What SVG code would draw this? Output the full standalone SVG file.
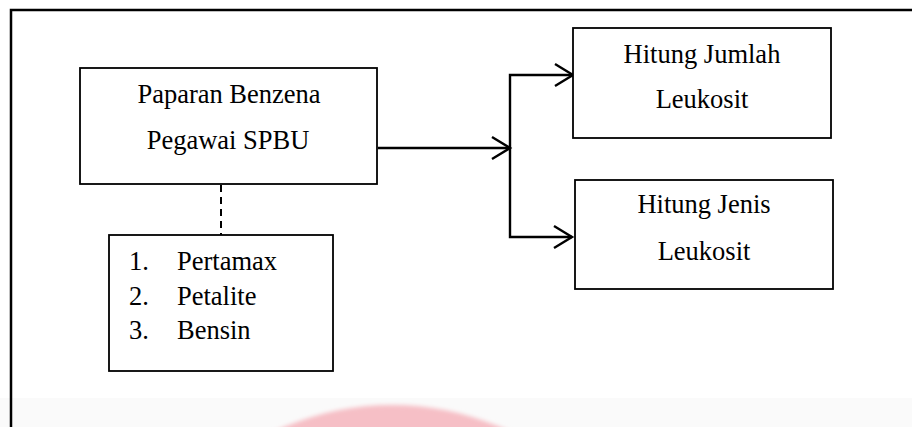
<svg xmlns="http://www.w3.org/2000/svg" width="912" height="427" viewBox="0 0 912 427">
<defs>
<style>
.box{fill:#fff;stroke:#000;stroke-width:1.8}
.t{font-size:26.5px;fill:#000}
.c{fill:none;stroke:#000;stroke-width:2.4}
</style>
<filter id="blur"><feGaussianBlur stdDeviation="2"/></filter>
</defs>
<rect x="0" y="0" width="912" height="427" fill="#fff"/>
<rect x="0" y="398" width="912" height="29" fill="#fafafa"/>
<circle cx="392" cy="681" r="276" fill="#f6bfc6" filter="url(#blur)"/>
<path d="M11 427 V10 H912" fill="none" stroke="#000" stroke-width="2.5"/>
<g id="connectors">
<path class="c" d="M378 148 H510"/>
<path class="c" d="M492 137 L510 148 L492 159"/>
<path class="c" d="M573 75 H510 V237 H572"/>
<path class="c" d="M555 64 L573 75 L555 86"/>
<path class="c" d="M554 226 L572 237 L554 248"/>
<path d="M221 185 V235" fill="none" stroke="#000" stroke-width="2" stroke-dasharray="7,5"/>
</g>
<g font-family="'Liberation Serif', 'DejaVu Serif', serif">
<g id="paparan">
<rect class="box" x="80" y="68" width="297" height="116"/>
<text class="t" x="229" y="103" text-anchor="middle">Paparan Benzena</text>
<text class="t" x="228" y="149" text-anchor="middle">Pegawai SPBU</text>
</g>
<g id="jenis-bbm">
<rect class="box" x="109" y="235" width="224" height="136"/>
<text class="t" x="129" y="270">1.</text>
<text class="t" x="177" y="270">Pertamax</text>
<text class="t" x="129" y="305">2.</text>
<text class="t" x="177" y="305">Petalite</text>
<text class="t" x="129" y="339">3.</text>
<text class="t" x="177" y="339">Bensin</text>
</g>
<g id="jumlah">
<rect class="box" x="573" y="28" width="258" height="110"/>
<text class="t" x="702" y="63" text-anchor="middle">Hitung Jumlah</text>
<text class="t" x="702" y="108" text-anchor="middle">Leukosit</text>
</g>
<g id="jenis">
<rect class="box" x="575" y="180" width="258" height="109"/>
<text class="t" x="704" y="213" text-anchor="middle">Hitung Jenis</text>
<text class="t" x="704" y="260" text-anchor="middle">Leukosit</text>
</g>
</g>
</svg>
